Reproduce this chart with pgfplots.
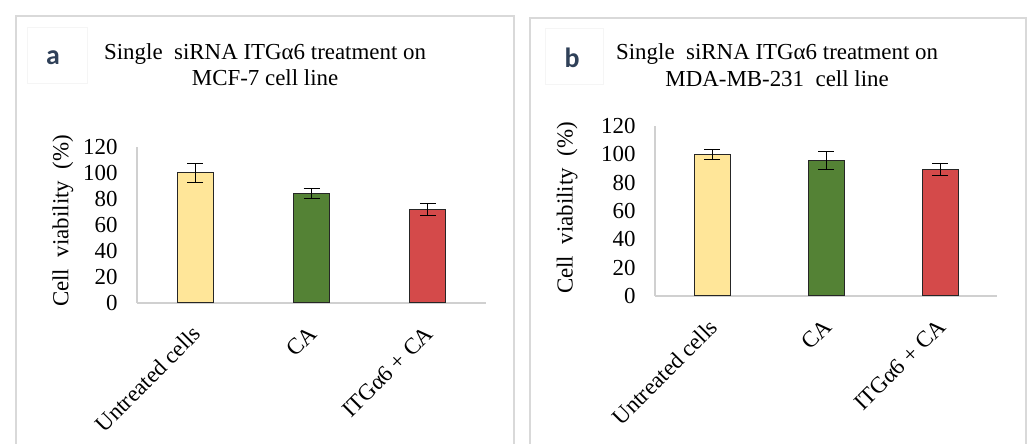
\documentclass[border=0pt]{standalone}
\usepackage{fontspec}
\setmainfont{Liberation Serif}
\newfontfamily\calibri{Carlito}
\usepackage{pgfplots}
\pgfplotsset{compat=1.18}
\definecolor{barY}{HTML}{FFE699}
\definecolor{barG}{HTML}{548235}
\definecolor{barR}{HTML}{D44A4A}
\definecolor{frameC}{HTML}{D9D9D9}
\definecolor{axC}{HTML}{D0D0D0}
\definecolor{letterC}{HTML}{2F4058}

\pgfplotsset{
  panel/.style={
    scale only axis,
    anchor=south west,
    xmin=-0.5, xmax=2.5, ymin=0, ymax=120,
    axis x line=bottom, axis y line=left,
    axis line style={-, draw=axC, line width=1.2bp},
    xtick={0,1,2},
    xticklabels={Untreated cells, CA, ITGα6 + CA},
    ytick={0,20,...,120},
    major tick length=0pt,
    /pgf/number format/assume math mode=true,
    tick label style={font=\fontsize{23}{25}\selectfont, black},
    yticklabel style={xshift=-16bp},
    xticklabel style={rotate=45, anchor=east, xshift=-14.6bp, yshift=-20.3bp},
    label style={font=\fontsize{23}{25}\selectfont},
    title style={font=\fontsize{23}{26}\selectfont, align=center, anchor=center},
    ybar, bar width=36bp,
    clip=false,
  },
  barstyle/.style={draw=black!85, line width=1bp, bar shift=0pt,
    error bars/y dir=both, error bars/y explicit,
    error bars/error bar style={black, line width=1bp},
    error bars/error mark options={rotate=90, mark size=8bp, black, line width=1bp}},
}

\begin{document}
\begin{tikzpicture}[x=1bp,y=1bp]
\useasboundingbox (0,0) rectangle (1029,444);
\fill[white] (0,0) rectangle (1029,444);
% panel frames
\draw[frameC, line width=2bp] (16,-5) -- (16,428) -- (514,428) -- (514,-5);
\draw[frameC, line width=2bp] (530,-5) -- (530,426) -- (1026,426) -- (1026,-5);
% panel letters
\draw[black!4, line width=0.8bp] (27,361) rectangle (87,417);
\node[text=letterC, font=\calibri\bfseries\fontsize{28}{30}\selectfont] at (53,386) {a};
\draw[black!4, line width=0.8bp] (545,360) rectangle (603,416);
\node[text=letterC, font=\calibri\bfseries\fontsize{28}{30}\selectfont] at (572,386) {b};

\begin{axis}[panel, at={(137bp,141bp)}, width=349bp, height=156bp,
  title={Single\ \ siRNA ITGα6 treatment\ on\\MCF-7 cell line},
  title style={at={(axis description cs:0.367,1.49)}},
  ylabel={Cell\ \ viability\ \ (\%)},
  ylabel style={at={(axis description cs:-0.212,0.526)}, anchor=center},
]
\addplot[barstyle, fill=barY] coordinates {(0,100) +- (0,7.5)};
\addplot[barstyle, fill=barG] coordinates {(1,84) +- (0,4)};
\addplot[barstyle, fill=barR] coordinates {(2,72) +- (0,4.5)};
\end{axis}

\begin{axis}[panel, at={(655bp,148bp)}, width=342bp, height=170bp,
  title={Single\ \ siRNA ITGα6 treatment\ on\\MDA-MB-231\ \ cell line},
  title style={at={(axis description cs:0.357,1.32)}, font=\fontsize{23}{27}\selectfont},
  ylabel={Cell\ \ viability\ \ (\%)},
  ylabel style={at={(axis description cs:-0.257,0.518)}, anchor=center},
]
\addplot[barstyle, fill=barY] coordinates {(0,100) +- (0,3.7)};
\addplot[barstyle, fill=barG] coordinates {(1,95.5) +- (0,6.2)};
\addplot[barstyle, fill=barR] coordinates {(2,89.4) +- (0,4.4)};
\end{axis}
\end{tikzpicture}
\end{document}
